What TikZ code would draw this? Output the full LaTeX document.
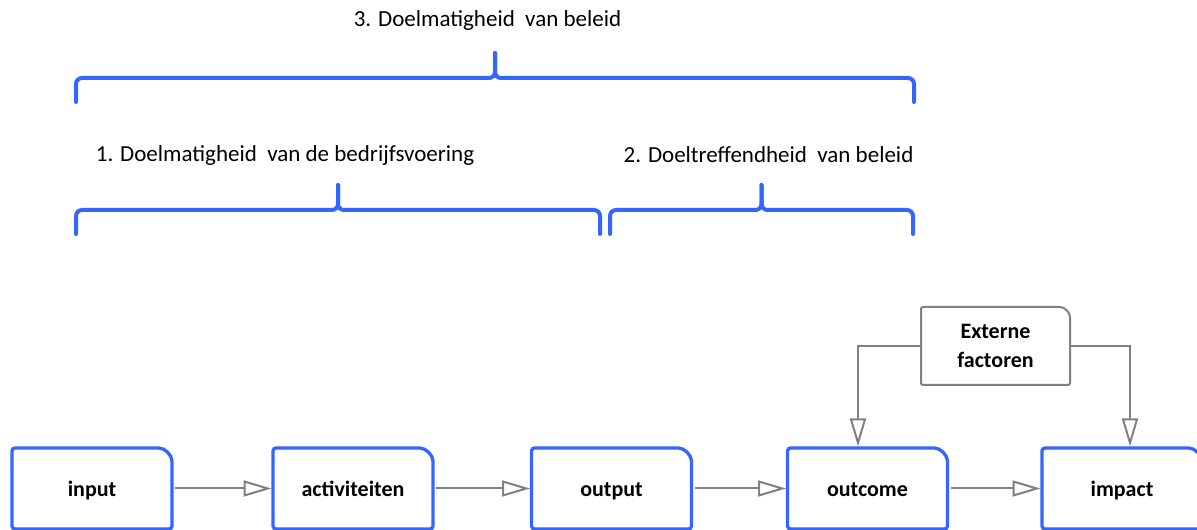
\documentclass[tikz,border=0pt]{standalone}
\usepackage{fontspec}
\setmainfont{Carlito}
\usetikzlibrary{arrows.meta}
\definecolor{boxblue}{RGB}{51,102,255}
\definecolor{linegray}{RGB}{128,128,128}

\begin{document}
\begin{tikzpicture}[x=1pt, y=1pt,
  bracket/.style={boxblue, line width=4pt, rounded corners=6pt, line cap=round},
  stage/.style={minimum width=160pt, minimum height=81pt, outer sep=0pt, text height=19pt, text depth=2pt,
    font=\fontsize{22}{26}\selectfont\bfseries},
  heading/.style={font=\fontsize{23}{28}\selectfont},
  flow/.style={linegray, line width=2pt, shorten <=3pt, shorten >=1.5pt, -{Triangle[open, length=28pt, width=16pt]}}]

\useasboundingbox (0,0) rectangle (1197,530);

% top brace
\draw[bracket] (76,428) -- (76,452) -- (495,452) -- (495,477);
\draw[bracket] (495,477) -- (495,452) -- (914,452) -- (914,428);

% lower braces
\draw[bracket] (76,296) -- (76,320) -- (338,320) -- (338,345);
\draw[bracket] (338,345) -- (338,320) -- (600,320) -- (600,296);
\draw[bracket] (610,296) -- (610,320) -- (761.5,320) -- (761.5,345);
\draw[bracket] (761.5,345) -- (761.5,320) -- (913,320) -- (913,296);

\node[heading] (doel3) at (487.5,510) {3. Doelmatigheid~ van beleid};
\node[heading] (doel1) at (285,375) {1. Doelmatigheid~ van de bedrijfsvoering};
\node[heading] (doel2) at (768.5,375) {2. Doeltreffendheid~ van beleid};

% chain
\node[stage] (input) at (92,41.5) {input};
\node[stage] (activiteiten) at (353,41.5) {activiteiten};
\node[stage] (output) at (611.5,41.5) {output};
\node[stage] (outcome) at (867.5,41.5) {outcome};
\node[stage] (impact) at (1122,41.5) {impact};

\foreach \n in {input,activiteiten,output,outcome,impact}
  \draw[boxblue, line width=3.3pt, rounded corners=3pt] (\n.south west) -- (\n.north west)
    -- ([xshift=-16pt]\n.north east) arc[start angle=90, end angle=0, radius=16pt]
    -- (\n.south east) -- cycle;

\node[stage, minimum width=149pt, minimum height=78pt, align=center, text height=, text depth=,
  font=\fontsize{22}{29}\selectfont\bfseries] (extern) at (995.5,184) {Externe\\factoren};
\draw[linegray, line width=2pt, rounded corners=2pt] (extern.south west) -- (extern.north west)
  -- ([xshift=-12pt]extern.north east) arc[start angle=90, end angle=0, radius=12pt]
  -- (extern.south east) -- cycle;

\draw[flow] (input) -- (activiteiten);
\draw[flow] (activiteiten) -- (output);
\draw[flow] (output) -- (outcome);
\draw[flow] (outcome) -- (impact);

\draw[flow, shorten <=1pt] (extern.west) -| ([xshift=-9.5pt]outcome.north);
\draw[flow, shorten <=1pt] (extern.east) -| ([xshift=8pt]impact.north);
\end{tikzpicture}
\end{document}
